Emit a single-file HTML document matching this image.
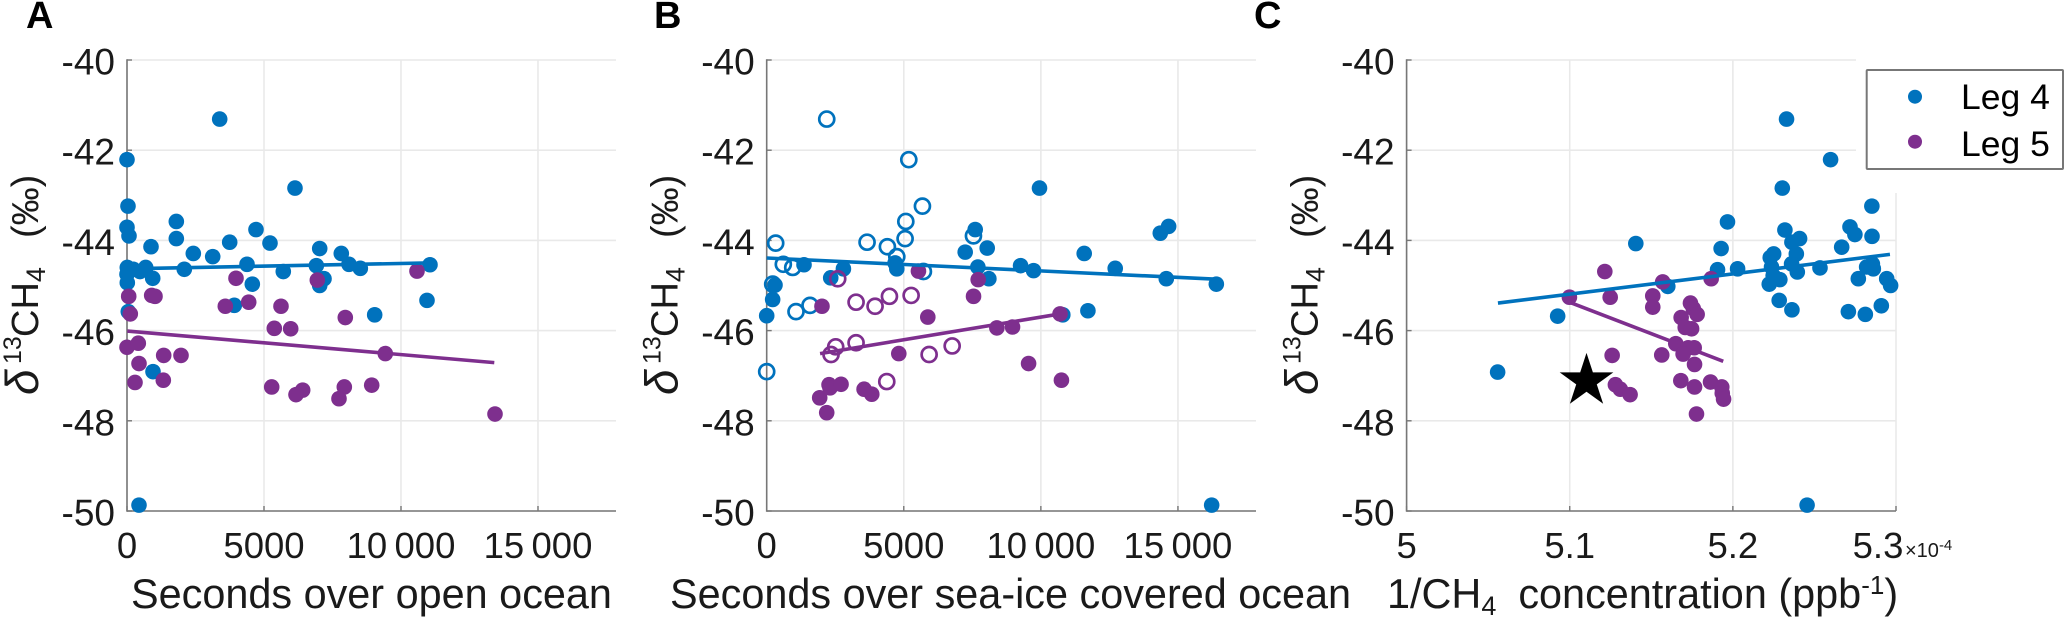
<!DOCTYPE html>
<html lang="en">
<head>
<meta charset="utf-8">
<title>Methane isotope scatter panels</title>
<style>
html,body{margin:0;padding:0;background:#fff;width:2067px;height:621px;overflow:hidden}
svg{display:block;font-family:"Liberation Sans",Arial,sans-serif}
text{fill:#1a1a1a}
</style>
</head>
<body>
<svg id="fig" xmlns="http://www.w3.org/2000/svg" width="2067" height="621" viewBox="0 0 2067 621">
<rect width="2067" height="621" fill="#fff"/>
</svg>
<script>
// Panel A values
const aBlueX=[3383,0,6131,36,0,73,1800,4708,1800,876,3748,5219,7033,7821,2420,3128,4380,6910,8102,8515,11058,2091,5704,11,230,474,682,938,0,11,4573,7190,7033,10949,3916,9040,47,949,438];
const aBlueY=[-41.31,-42.21,-42.84,-43.24,-43.71,-43.9,-43.58,-43.76,-43.96,-44.14,-44.04,-44.06,-44.18,-44.29,-44.29,-44.36,-44.53,-44.56,-44.53,-44.62,-44.54,-44.64,-44.69,-44.6,-44.64,-44.69,-44.6,-44.84,-44.75,-44.94,-44.97,-44.85,-45,-45.33,-45.44,-45.65,-45.58,-46.91,-49.87];
const aPurpleX=[3978,6946,10584,62,901,1022,120,3588,4442,5620,7967,5376,5974,9427,0,412,1339,1971,438,292,1325,5281,6412,6168,7931,7737,8931,13431];
const aPurpleY=[-44.84,-44.88,-44.68,-45.24,-45.22,-45.24,-45.63,-45.46,-45.37,-45.46,-45.71,-45.95,-45.96,-46.51,-46.37,-46.28,-46.55,-46.55,-46.73,-47.15,-47.1,-47.25,-47.32,-47.42,-47.25,-47.51,-47.21,-47.85];
const aBlueFitX=[0,11000];
const aBlueFitY=[-44.63,-44.5];
const aPurpleFitX=[11,13405];
const aPurpleFitY=[-46.01,-46.71];

// Panel B values
const bBlueX=[1361,2798,2335,4684,4745,7240,7605,8043,7702,8103,9260,9734,9950,11581,12712,14356,14660,14575,16400,11716,10800,303,217,0,16230];
const bBlueY=[-44.54,-44.63,-44.83,-44.5,-44.63,-44.26,-43.76,-44.17,-44.59,-44.85,-44.56,-44.67,-42.84,-44.29,-44.62,-43.84,-43.69,-44.85,-44.97,-45.56,-45.65,-44.99,-45.31,-45.67,-49.87];
const bBlueOpenX=[2190,5183,5680,5074,5048,3661,4402,4745,7541,328,606,949,219,1069,1580,5716,0];
const bBlueOpenY=[-41.31,-42.21,-43.24,-43.58,-43.96,-44.04,-44.14,-44.36,-43.9,-44.06,-44.53,-44.6,-44.97,-45.58,-45.44,-44.69,-46.91];
const bPurpleX=[5535,7714,7544,2016,5876,8395,8967,4818,9552,10700,10750,2274,2310,2712,1933,2189,3552,3832];
const bPurpleY=[-44.68,-44.87,-45.24,-45.46,-45.7,-45.94,-45.92,-46.51,-46.73,-45.63,-47.1,-47.2,-47.27,-47.19,-47.49,-47.82,-47.3,-47.41];
const bPurpleOpenX=[2590,3260,3953,4477,5268,2517,3260,2347,5925,6765,4380];
const bPurpleOpenY=[-44.85,-45.37,-45.46,-45.24,-45.22,-46.36,-46.27,-46.53,-46.53,-46.34,-47.13];
const bBlueFitX=[0,16400];
const bBlueFitY=[-44.39,-44.86];
const bPurpleFitX=[1946,10700];
const bPurpleFitY=[-46.51,-45.63];

// Panel C values
const cBlueX=[5.2303,5.1967,5.2319,5.1928,5.1405,5.225,5.2409,5.2362,5.2389,5.2229,5.1906,5.2029,5.0926,5.1601,5.236,5.2395,5.2237,5.2288,5.2223,5.2247,5.2284,5.2362,5.2534,5.2667,5.2748,5.2718,5.2853,5.2855,5.282,5.2861,5.2769,5.2943,5.2967,5.291,5.2812,5.2708,5.2329,5.2599,5.2852,5.0558,5.2455];
const cBlueY=[-42.84,-43.59,-43.77,-44.18,-44.07,-44.3,-43.96,-44.04,-44.3,-44.38,-44.65,-44.63,-45.68,-45.02,-44.52,-44.7,-44.59,-44.87,-44.97,-44.78,-45.33,-45.54,-44.61,-44.15,-43.87,-43.7,-43.91,-44.52,-44.59,-44.63,-44.85,-44.85,-45,-45.45,-45.64,-45.58,-41.31,-42.21,-43.24,-46.92,-49.87];
const cPurpleX=[5.0998,5.1215,5.1248,5.157,5.1867,5.1509,5.1509,5.174,5.1757,5.1781,5.1683,5.1708,5.1747,5.165,5.1726,5.1763,5.1695,5.1564,5.1765,5.1681,5.1765,5.1863,5.1932,5.1935,5.1943,5.1777,5.126,5.128,5.131,5.137];
const cPurpleY=[-45.26,-44.69,-45.26,-44.92,-44.85,-45.23,-45.48,-45.39,-45.51,-45.64,-45.71,-45.93,-45.96,-46.29,-46.38,-46.38,-46.52,-46.54,-46.75,-47.11,-47.25,-47.14,-47.25,-47.39,-47.52,-47.85,-46.55,-47.2,-47.3,-47.42];
const cBlueFitX=[5.056,5.2963];
const cBlueFitY=[-45.39,-44.31];
const cPurpleFitX=[5.0998,5.1941];
const cPurpleFitY=[-45.37,-46.68];
const cStarX=[5.1103];
const cStarY=[-47.08];

// Tick values and labels
const yTicks=[-40,-42,-44,-46,-48,-50];
const yTickLabels=['-40','-42','-44','-46','-48','-50'];
const secTicks=[0,5000,10000,15000];
const secTickLabels=['0','5000','10\u2009000','15\u2009000'];
const invTicks=[5,5.1,5.2,5.3];
const invTickLabels=['5','5.1','5.2','5.3'];

const BLUE='#0072BD',PURPLE='#7E2F8E',GRID='#e9e9e9',AXIS='#777777';
const svg=document.getElementById('fig');
const NS='http://www.w3.org/2000/svg';

function mk(parent,tag,attrs,txt){
  const e=document.createElementNS(NS,tag);
  for(const k in attrs)e.setAttribute(k,attrs[k]);
  if(txt!==undefined)e.textContent=txt;
  parent.appendChild(e);
  return e;
}

function drawPanel(cfg){
  const top=60,bottom=511;
  const sx=v=>cfg.left+(v-cfg.xMin)/(cfg.xMax-cfg.xMin)*(cfg.right-cfg.left);
  const sy=v=>top+(-40-v)/10*(bottom-top);
  const g=mk(svg,'g',{});
  
  

  cfg.xTicks.forEach((t,i)=>{
    const line=mk(g,'line',{x1:sx(t),x2:sx(t),y1:top,y2:bottom,stroke:GRID,'stroke-width':1.6});
    
    
  });
  yTicks.forEach(t=>{
    const line=mk(g,'line',{x1:cfg.left,x2:cfg.right,y1:sy(t),y2:sy(t),stroke:GRID,'stroke-width':1.6});
    
    
  });
  if(cfg.afterGrid)cfg.afterGrid(g);

  const yAxis=mk(g,'line',{x1:cfg.left,x2:cfg.left,y1:top-0.7,y2:bottom+0.7,stroke:AXIS,'stroke-width':1.6});
  
  
  const xAxis=mk(g,'line',{x1:cfg.left,x2:cfg.right,y1:bottom,y2:bottom,stroke:AXIS,'stroke-width':1.6});
  
  

  yTicks.forEach((t,i)=>{
    const tick=mk(g,'line',{x1:cfg.left,x2:cfg.left+5,y1:sy(t),y2:sy(t),stroke:AXIS,'stroke-width':1.4});
    
    
    const lab=mk(g,'text',{x:cfg.left-12,y:sy(t)+14.5,'text-anchor':'end','font-size':37},yTickLabels[i]);
    
    
  });
  cfg.xTicks.forEach((t,i)=>{
    const tick=mk(g,'line',{x1:sx(t),x2:sx(t),y1:bottom,y2:bottom-5,stroke:AXIS,'stroke-width':1.4});
    
    
    const nudge=(cfg.lastLabelNudge&&i===cfg.xTicks.length-1)?cfg.lastLabelNudge:0;
    const lab=mk(g,'text',{x:sx(t)+nudge,y:558,'text-anchor':'middle','font-size':36.5},cfg.xLabels[i]);
    
    
  });

  // draw order: blue dots, purple fit, purple dots, blue fit
  const dots=(xs,ys,color,open,name)=>{
    xs.forEach((x,i)=>{
      const c=mk(g,'circle',open
        ?{cx:sx(x),cy:sy(ys[i]),r:7.5,fill:'none',stroke:color,'stroke-width':2.7}
        :{cx:sx(x),cy:sy(ys[i]),r:7.8,fill:color});
      
      
    });
  };
  const fit=(xs,ys,color,name)=>{
    const l=mk(g,'line',{x1:sx(xs[0]),y1:sy(ys[0]),x2:sx(xs[1]),y2:sy(ys[1]),stroke:color,'stroke-width':3.6});
    
    
  };
  if(cfg.blueOpenX)dots(cfg.blueOpenX,cfg.blueOpenY,BLUE,true,'leg4-open-point');
  dots(cfg.blueX,cfg.blueY,BLUE,false,'leg4-point');
  fit(cfg.purpleFitX,cfg.purpleFitY,PURPLE,'leg5-trend-line');
  if(cfg.purpleOpenX)dots(cfg.purpleOpenX,cfg.purpleOpenY,PURPLE,true,'leg5-open-point');
  dots(cfg.purpleX,cfg.purpleY,PURPLE,false,'leg5-point');
  fit(cfg.blueFitX,cfg.blueFitY,BLUE,'leg4-trend-line');
  if(cfg.starX){
    const star=mk(g,'text',{x:sx(cfg.starX[0]),y:sy(cfg.starY[0])+24,'text-anchor':'middle','font-size':70,style:'fill:#000;font-family:"DejaVu Sans",sans-serif'},'\u2605');
    
    
  }

  // y axis title
  const yt=mk(g,'text',{transform:`translate(${cfg.left-89},395) rotate(-90)`,'font-size':38});
  
  
  mk(yt,'tspan',{'font-style':'italic','font-size':46},'\u03B4');
  mk(yt,'tspan',{'font-size':25,x:31,dy:-17},'13');
  mk(yt,'tspan',{x:58,dy:17},'CH');
  mk(yt,'tspan',{'font-size':27,dy:7},'4');
  mk(yt,'tspan',{x:157,dy:-7},'(\u2030)');

  // x axis title
  const xt=mk(g,'text',{x:cfg.titleX,y:608,'font-size':41.4});
  
  
  cfg.title(xt);

  const pl=mk(g,'text',{x:cfg.letterX,y:28,'font-size':38,'font-weight':'bold',style:'fill:#000'},cfg.letter);
  
  
}

drawPanel({id:'a',letter:'A',letterX:26,left:127,right:616,xMin:0,xMax:17847,xTicks:secTicks,xLabels:secTickLabels,
  blueX:aBlueX,blueY:aBlueY,purpleX:aPurpleX,purpleY:aPurpleY,
  blueFitX:aBlueFitX,blueFitY:aBlueFitY,purpleFitX:aPurpleFitX,purpleFitY:aPurpleFitY,
  titleX:131,title:t=>{t.textContent='Seconds over open ocean';}});

drawPanel({id:'b',letter:'B',letterX:654,left:766.7,right:1256,xMin:0,xMax:17847,xTicks:secTicks,xLabels:secTickLabels,
  blueX:bBlueX,blueY:bBlueY,purpleX:bPurpleX,purpleY:bPurpleY,
  blueOpenX:bBlueOpenX,blueOpenY:bBlueOpenY,purpleOpenX:bPurpleOpenX,purpleOpenY:bPurpleOpenY,
  blueFitX:bBlueFitX,blueFitY:bBlueFitY,purpleFitX:bPurpleFitX,purpleFitY:bPurpleFitY,
  titleX:670,title:t=>{t.textContent='Seconds over sea-ice covered ocean';}});

drawPanel({id:'c',letter:'C',letterX:1254,left:1406.6,right:1896,xMin:5,xMax:5.3,xTicks:invTicks,xLabels:invTickLabels,lastLabelNudge:-18,
  blueX:cBlueX,blueY:cBlueY,purpleX:cPurpleX,purpleY:cPurpleY,
  blueFitX:cBlueFitX,blueFitY:cBlueFitY,purpleFitX:cPurpleFitX,purpleFitY:cPurpleFitY,
  starX:cStarX,starY:cStarY,
  afterGrid:g=>{
    const mask=mk(g,'rect',{x:1856,y:50,width:60,height:143,fill:'#fff'});
    
    
  },
  titleX:1387,title:t=>{
    mk(t,'tspan',{},'1/CH');
    mk(t,'tspan',{'font-size':27,dy:7},'4');
    mk(t,'tspan',{dy:-7,dx:22},'concentration (ppb');
    mk(t,'tspan',{'font-size':26,dy:-14},'-1');
    mk(t,'tspan',{dy:14},')');
  }});
</script>
<svg style="position:absolute;left:0;top:0" xmlns="http://www.w3.org/2000/svg" width="2067" height="621" viewBox="0 0 2067 621">
<text x="1905" y="557" font-size="20">×10<tspan font-size="15" dy="-7">-4</tspan></text>
<g>
<rect x="1866.7" y="70" width="196.3" height="99" rx="1" fill="#fff" stroke="#777" stroke-width="2"/>
<g>
<circle cx="1915" cy="96.7" r="7" fill="#0072BD"/>
<text x="1961" y="109" font-size="35.5" style="fill:#000">Leg 4</text>
</g>
<g>
<circle cx="1915" cy="141.7" r="7" fill="#7E2F8E"/>
<text x="1961" y="156" font-size="35.5" style="fill:#000">Leg 5</text>
</g>
</g>
</svg>
</body>
</html>
